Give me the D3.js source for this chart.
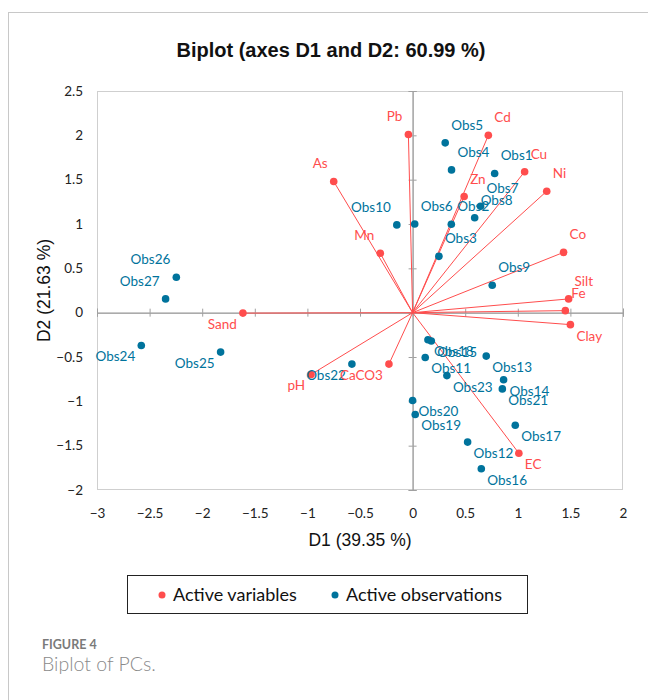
<!DOCTYPE html>
<html><head><meta charset="utf-8">
<script src="https://cdn.jsdelivr.net/npm/d3@7"></script>
<style>
body{margin:0;background:#fff;}
svg{display:block;}
</style></head>
<body>
<svg id="chart" width="648" height="700"></svg>
<script>
// ---- data ----
const varNames = ["Pb","Cd","Cu","Ni","As","Zn","Mn","Co","Silt","Fe","Clay","Sand","pH","CaCO3","EC"];
const varD1 = [-0.04,0.72,1.065,1.275,-0.75,0.49,-0.307,1.435,1.483,1.452,1.50,-1.613,-0.965,-0.225,1.01];
const varD2 = [2.01,2.00,1.59,1.37,1.48,1.31,0.67,0.68,0.155,0.023,-0.135,-0.005,-0.697,-0.58,-1.585];

const obsNames = ["Obs1","Obs2","Obs3","Obs4","Obs5","Obs6","Obs7","Obs8","Obs9","Obs10","Obs11","Obs12","Obs13","Obs14","Obs15","Obs16","Obs17","Obs18","Obs19","Obs20","Obs21","Obs22","Obs23","Obs24","Obs25","Obs26","Obs27"];
const obsD1 = [0.78,0.368,0.25,0.37,0.31,0.02,0.646,0.59,0.757,-0.15,0.12,0.523,0.70,0.865,0.178,0.653,0.976,0.146,0.025,0.0,0.853,-0.577,0.326,-2.579,-1.825,-2.246,-2.348];
const obsD2 = [1.57,0.997,0.635,1.61,1.915,1.0,1.20,1.07,0.31,0.99,-0.505,-1.46,-0.49,-0.756,-0.32,-1.76,-1.27,-0.305,-1.148,-0.99,-0.86,-0.58,-0.71,-0.37,-0.445,0.40,0.155];

const xTicks = [-3,-2.5,-2,-1.5,-1,-0.5,0,0.5,1,1.5,2];
const yTicks = [-2,-1.5,-1,-0.5,0,0.5,1,1.5,2,2.5];

const titleText = "Biplot (axes D1 and D2: 60.99 %)";
const xTitle = "D1 (39.35 %)";
const yTitle = "D2 (21.63 %)";
const legendLabels = ["Active variables","Active observations"];

// ---- style ----
const RED = "#ff4d4d", BLUE = "#00739c";
const svg = d3.select("#chart");
const L = 97, R = 623, T = 91, B = 490;
const x = d3.scaleLinear().domain([-3,2]).range([L,R]);
const y = d3.scaleLinear().domain([-2,2.5]).range([B,T]);

// figure border lines
svg.append("line").attr("x1",8).attr("x2",648).attr("y1",12.5).attr("y2",12.5).attr("stroke","#c8c8c8");
svg.append("line").attr("x1",8.5).attr("x2",8.5).attr("y1",12).attr("y2",700).attr("stroke","#c8c8c8");

// title
svg.append("text").attr("x",331).attr("y",57).attr("text-anchor","middle")
  .style("font-family","'Liberation Sans',Arial,sans-serif").style("font-weight","bold").style("font-size","20px")
  .attr("fill","#111").text(titleText);

// frame
svg.append("rect").attr("x",L+0.5).attr("y",T+0.5).attr("width",R-L-1).attr("height",B-T-1)
  .attr("fill","none").attr("stroke","#cfcfcf");

// tick labels (outside)
const fontTick = "Lato, 'Open Sans', sans-serif";
const ay = svg.append("g").attr("transform",`translate(${L},0)`)
  .call(d3.axisLeft(y).tickValues(yTicks).tickSize(0).tickPadding(14).tickFormat(d3.format("")));
const ax = svg.append("g").attr("transform",`translate(0,${B})`)
  .call(d3.axisBottom(x).tickValues(xTicks).tickSize(0).tickPadding(18).tickFormat(d3.format("")));
[ax,ay].forEach(g=>{
  g.select(".domain").remove();
  g.selectAll("text").style("font-family",fontTick).style("font-size","13.5px").attr("fill","#222");
});

// zero axes with ticks
const zx = svg.append("g").attr("transform",`translate(${x(0)},0)`)
  .call(d3.axisLeft(y).tickValues(yTicks).tickSize(4).tickFormat(""));
const zxr = svg.append("g").attr("transform",`translate(${x(0)},0)`)
  .call(d3.axisRight(y).tickValues(yTicks).tickSize(4).tickFormat(""));
const zy = svg.append("g").attr("transform",`translate(0,${y(0)})`)
  .call(d3.axisBottom(x).tickValues(xTicks).tickSize(4).tickFormat(""));
const zyt = svg.append("g").attr("transform",`translate(0,${y(0)})`)
  .call(d3.axisTop(x).tickValues(xTicks).tickSize(4).tickFormat(""));
[zx,zxr,zy,zyt].forEach(g=>{
  g.selectAll("path,line").attr("stroke","#a0a0a0");
});

// axis titles
svg.append("text").attr("x",(L+R)/2).attr("y",546).attr("text-anchor","middle")
  .style("font-family","'Liberation Sans',Arial,sans-serif").style("font-size","17.5px").attr("fill","#111").text(xTitle);
svg.append("text").attr("transform",`translate(50,${(T+B)/2}) rotate(-90)`).attr("text-anchor","middle")
  .style("font-family","'Liberation Sans',Arial,sans-serif").style("font-size","17.5px").attr("fill","#111").text(yTitle);

// data tables
const vars = varNames.map((n,i)=>({n, d1:varD1[i], d2:varD2[i]}));
const obs = obsNames.map((n,i)=>({n, d1:obsD1[i], d2:obsD2[i]}));

// vectors
svg.append("g").selectAll("line").data(vars).join("line")
  .attr("x1",x(0)).attr("y1",y(0)).attr("x2",d=>x(d.d1)).attr("y2",d=>y(d.d2))
  .attr("stroke",RED).attr("stroke-width",1);

// points
svg.append("g").selectAll("circle").data(obs).join("circle")
  .attr("cx",d=>x(d.d1)).attr("cy",d=>y(d.d2)).attr("r",3.8).attr("fill",BLUE);
svg.append("g").selectAll("circle").data(vars).join("circle")
  .attr("cx",d=>x(d.d1)).attr("cy",d=>y(d.d2)).attr("r",3.8).attr("fill",RED);

// labels
function placeLabels(data, color){
  svg.append("g").selectAll("text").data(data).join("text")
    .attr("x",d=>d.d1>=0 ? x(d.d1)+6 : x(d.d1)-6)
    .attr("y",d=>d.d2>=0 ? y(d.d2)-13 : y(d.d2)+16)
    .attr("text-anchor",d=>d.d1>=0?"start":"end")
    .style("font-family",fontTick).style("font-size","13.5px").attr("fill",color)
    .text(d=>d.n);
}
placeLabels(obs, BLUE);
placeLabels(vars, RED);

// legend
svg.append("rect").attr("x",127.5).attr("y",575.5).attr("width",400).attr("height",38)
  .attr("fill","none").attr("stroke","#222");
const legX = [162,335], legC = [RED,BLUE];
legendLabels.forEach((t,i)=>{
  svg.append("circle").attr("cx",legX[i]).attr("cy",595).attr("r",3.5).attr("fill",legC[i]);
  svg.append("text").attr("x",legX[i]+11).attr("y",601)
    .style("font-family",fontTick).style("font-size","18px").attr("fill","#111").text(t);
});

// caption
svg.append("text").attr("x",42).attr("y",649)
  .style("font-family","Lato,'Open Sans',sans-serif").style("font-weight","bold").style("font-size","12.5px")
  .attr("fill","#7a7a7a").text("FIGURE 4");
svg.append("text").attr("x",42).attr("y",671)
  .style("font-family","Lato,'Open Sans',sans-serif").style("font-weight","300").style("font-size","19.5px")
  .attr("fill","#8a8a8a").text("Biplot of PCs.");
</script>
</body></html>
